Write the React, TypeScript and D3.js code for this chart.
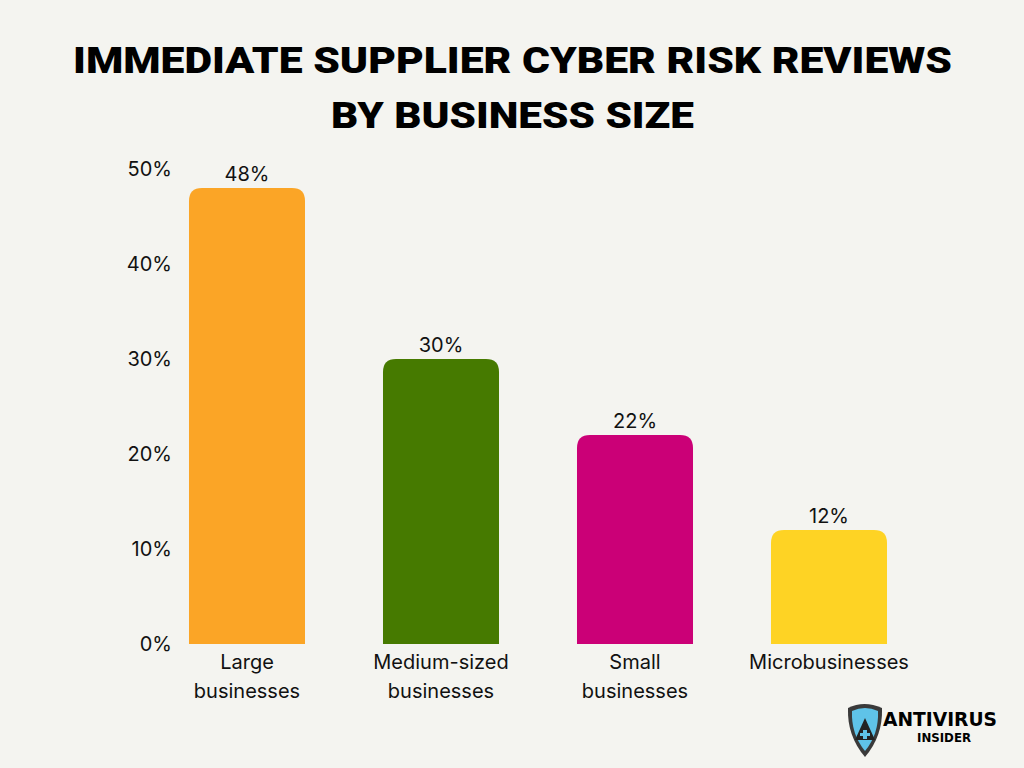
import React from "react";
import * as d3 from "d3";

const categories = ["Large businesses", "Medium-sized businesses", "Small businesses", "Microbusinesses"];
const categoryLines = [["Large", "businesses"], ["Medium-sized", "businesses"], ["Small", "businesses"], ["Microbusinesses"]];
const values = [48, 30, 22, 12];
const colors = ["#FBA526", "#467A00", "#CB0077", "#FED324"];
const yTicks = [0, 10, 20, 30, 40, 50];
const titleLines = ["IMMEDIATE SUPPLIER CYBER RISK REVIEWS", "BY BUSINESS SIZE"];

const W = 1024, H = 768;

function topRounded(x: number, y: number, w: number, h: number, r: number) {
  const rr = Math.min(r, h, w / 2);
  return `M${x},${y + h}V${y + rr}Q${x},${y} ${x + rr},${y}H${x + w - rr}Q${x + w},${y} ${x + w},${y + rr}V${y + h}Z`;
}

export default function App() {
  const x = d3.scaleBand<string>().domain(categories).range([150, 926]).paddingInner(0.402).paddingOuter(0.201);
  const y = d3.scaleLinear().domain([0, 50]).range([644, 169]);
  const font = "Inter, 'Noto Sans', sans-serif";
  return (
    <svg width={W} height={H} style={{ display: "block", position: "absolute", left: 0, top: 0 }}>
      <rect width={W} height={H} fill="#F4F4F0" />
      <g fontFamily="Roboto, 'DejaVu Sans', sans-serif" fontWeight={900} fontSize={37} fill="#000" textAnchor="middle">
        <text x={512.5} y={73} textLength={879} lengthAdjust="spacingAndGlyphs">{titleLines[0]}</text>
        <text x={512.5} y={128} textLength={363} lengthAdjust="spacingAndGlyphs">{titleLines[1]}</text>
      </g>
      <g fontFamily={font} fontSize={20} fill="#111">
        {yTicks.map((t) => (
          <text key={t} x={172} y={y(t)} dy="0.35em" textAnchor="end">{t}%</text>
        ))}
      </g>
      {categories.map((c, i) => {
        const bx = x(c)!;
        const bw = x.bandwidth();
        const by = y(values[i]);
        return (
          <g key={c}>
            <path d={topRounded(bx, by, bw, y(0) - by, 13)} fill={colors[i]} />
            <text x={bx + bw / 2} y={by - 7} textAnchor="middle" fontFamily={font} fontSize={20} fill="#111">{values[i]}%</text>
            {categoryLines[i].map((l, j) => (
              <text key={j} x={bx + bw / 2} y={669 + j * 29} textAnchor="middle" fontFamily={font} fontSize={20} fill="#111">{l}</text>
            ))}
          </g>
        );
      })}
      <g transform="translate(846,700)">
        <path d="M2,8 Q18,0 36,8 Q37,36 19,57 Q1,36 2,8Z" fill="#3a3a3a" />
        <path d="M6,11 Q19,5 32,11 Q33,34 19,51 Q5,34 6,11Z" fill="#5fc3e8" />
        <path d="M19,18 L29,40 H9 Z" fill="#222" />
        <path d="M17,30 h4 v3 h3 v3 h-3 v3 h-4 v-3 h-3 v-3 h3 z" fill="#5fc3e8" />
        <text x={37} y={26} fontFamily="'DejaVu Sans', sans-serif" fontWeight={900} fontSize={20} fill="#000" textLength={114} lengthAdjust="spacingAndGlyphs">ANTIVIRUS</text>
        <text x={71} y={42} fontFamily="'DejaVu Sans', sans-serif" fontWeight={900} fontSize={12} fill="#000" textLength={54} lengthAdjust="spacingAndGlyphs">INSIDER</text>
      </g>
    </svg>
  );
}
